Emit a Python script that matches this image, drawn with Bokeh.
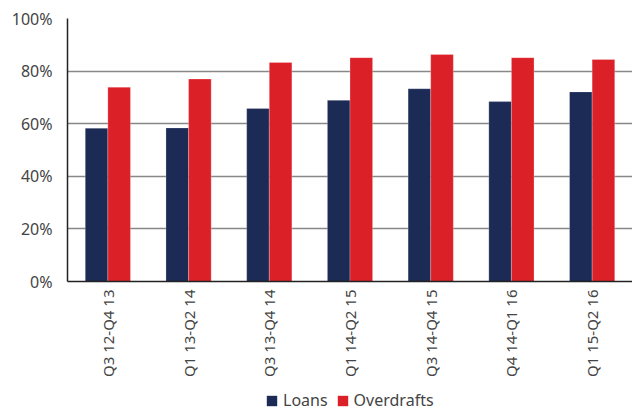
from bokeh.plotting import figure
from bokeh.layouts import column
from bokeh.models import ColumnDataSource, FactorRange, NumeralTickFormatter, Legend, LegendItem, Range1d
from bokeh.transform import dodge
from bokeh.embed import file_html
from bokeh.resources import INLINE

categories = ["Q3 12-Q4 13", "Q1 13-Q2 14", "Q3 13-Q4 14", "Q1 14-Q2 15",
              "Q3 14-Q4 15", "Q4 14-Q1 16", "Q1 15-Q2 16"]
loans = [0.583, 0.584, 0.658, 0.689, 0.733, 0.684, 0.721]
overdrafts = [0.739, 0.770, 0.833, 0.851, 0.863, 0.851, 0.844]
series_names = ["Loans", "Overdrafts"]
series_colors = ["#1c2a56", "#dc2028"]

src = ColumnDataSource(dict(cat=categories, loans=loans, overdrafts=overdrafts))

W = 632

p = figure(x_range=FactorRange(*categories), y_range=(0, 1.0),
           width=W, height=388, output_backend="svg", toolbar_location=None,
           min_border_left=67, min_border_right=0, min_border_top=18, min_border_bottom=107)

p.vbar(x=dodge("cat", -0.14, range=p.x_range), top="loans", width=0.28, source=src,
       fill_color=series_colors[0], line_color="#ffffff", line_alpha=0.4, line_width=0.6)
p.vbar(x=dodge("cat", 0.14, range=p.x_range), top="overdrafts", width=0.28, source=src,
       fill_color=series_colors[1], line_color="#ffffff", line_alpha=0.4, line_width=0.6)

p.outline_line_color = None
p.xgrid.grid_line_color = None
p.ygrid.grid_line_color = "#888888"
p.ygrid.grid_line_width = 1.5
p.ygrid.level = "underlay"

p.yaxis.formatter = NumeralTickFormatter(format="0%")
p.yaxis.ticker.desired_num_ticks = 6
p.yaxis.major_tick_line_color = None
p.yaxis.minor_tick_line_color = None
p.yaxis.major_tick_out = 0
p.yaxis.axis_line_color = "#222222"
p.yaxis.axis_line_width = 1.5
p.yaxis.major_label_text_font = "Noto Sans"
p.yaxis.major_label_text_font_size = "16px"
p.yaxis.major_label_text_color = "#444444"
p.yaxis.major_label_standoff = 11

p.xaxis.major_tick_line_color = None
p.xaxis.minor_tick_line_color = None
p.xaxis.major_tick_out = 0
p.xaxis.axis_line_color = "#222222"
p.xaxis.axis_line_width = 1.5
p.xaxis.major_label_orientation = 3.14159 / 2
p.xaxis.major_label_text_font = "Noto Sans"
p.xaxis.major_label_text_font_size = "15px"
p.xaxis.major_label_text_color = "#444444"
p.xaxis.major_label_standoff = 8

# legend strip
q = figure(width=W, height=24, output_backend="svg", toolbar_location=None,
           x_range=Range1d(0, 1), y_range=Range1d(0, 1),
           x_axis_location=None, y_axis_location=None,
           min_border_left=0, min_border_right=0, min_border_top=0, min_border_bottom=0)
q.outline_line_color = None
q.xgrid.grid_line_color = None
q.ygrid.grid_line_color = None
items = []
for name, col in zip(series_names, series_colors):
    r = q.vbar(x=[0.5], top=[0], bottom=[0], width=0, fill_color=col, line_color=None)
    items.append(LegendItem(label=name, renderers=[r]))
legend = Legend(items=items, location=(198, 1), orientation="horizontal",
                padding=0, margin=0, spacing=8, label_standoff=5,
                glyph_width=13, glyph_height=13,
                border_line_color=None, background_fill_alpha=0,
                label_text_font="Noto Sans", label_text_font_size="16px",
                label_text_color="#444444")
q.add_layout(legend, "center")

layout = column(p, q, spacing=0)
open("out.html", "w").write(file_html(layout, INLINE))
